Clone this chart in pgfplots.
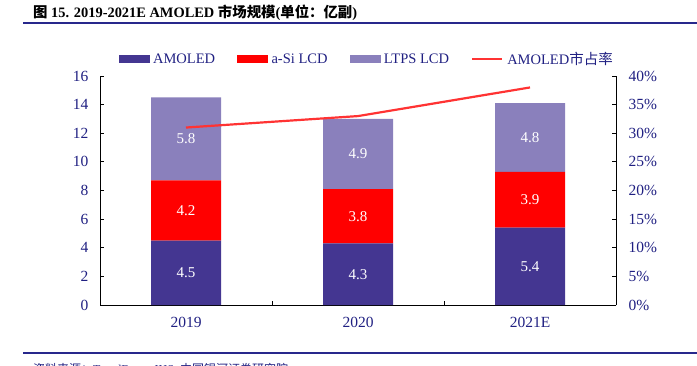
\documentclass[border=0pt]{standalone}
\usepackage{pgfplots}
\pgfplotsset{compat=1.18}
\usepackage{fontspec}
\setmainfont{Liberation Serif}
\newfontfamily\cjk{Noto Sans CJK SC}
\definecolor{amoled}{RGB}{68,54,145}
\definecolor{asi}{RGB}{255,0,0}
\definecolor{ltps}{RGB}{138,128,188}
\definecolor{linered}{RGB}{255,51,51}
\definecolor{navy}{RGB}{32,32,130}
\definecolor{rule}{RGB}{40,40,140}
\pgfplotsset{
  common/.style={
    at={(100pt,-305pt)}, anchor=south west, scale only axis,
    width=516pt, height=229pt, xmin=-0.5, xmax=2.5,
    /pgf/number format/assume math mode=true,
    tick label style={font=\fontsize{15.5}{17}\selectfont, text=navy},
    tick align=inside, major tick length=4pt,
    tick style={black, thick},
    axis line style={black, thick},
  }
}
\begin{document}
\begin{tikzpicture}
\useasboundingbox (0pt,0pt) rectangle (697pt,-365pt);
\clip (0pt,0pt) rectangle (697pt,-365pt);
% title
\node[anchor=base west, text=black, inner sep=0pt] at (33pt,-17pt)
  {\fontsize{14.4}{16}\selectfont\bfseries{\cjk 图} 15. 2019-2021E AMOLED {\cjk 市场规模}({\cjk 单位：亿副})};
\draw[rule, line width=1.6pt] (23pt,-23pt) -- (697pt,-23pt);
\draw[rule, line width=1.6pt] (23pt,-353pt) -- (697pt,-353pt);
\node[anchor=base west, text=navy, inner sep=0pt] at (33pt,-373pt)
  {\fontsize{12}{14}\selectfont{\cjk 资料来源：}TrendForce, IHS, {\cjk 中国银河证券研究院}};
% bars
\begin{axis}[common,
  ybar stacked, bar width=70pt,
  ymin=0, ymax=16, ytick={0,2,...,16},
  axis x line*=bottom, axis y line*=left,
  xtick={-0.5,0.5,1.5,2.5}, x tick label as interval,
  xticklabels={2019,2020,2021E},
  x tick label style={yshift=-9pt},
  y tick label style={xshift=-8pt},
]
\addplot[fill=amoled, draw=none] coordinates {(0,4.5) (1,4.3) (2,5.4)};
\addplot[fill=asi, draw=none] coordinates {(0,4.2) (1,3.8) (2,3.9)};
\addplot[fill=ltps, draw=none] coordinates {(0,5.8) (1,4.9) (2,4.8)};
\end{axis}
% value labels
\begin{axis}[common, hide axis, ymin=0, ymax=16]
\addplot[only marks, mark=none, point meta=explicit symbolic,
  nodes near coords,
  every node near coord/.style={anchor=center, text=white, font=\fontsize{15}{17}\selectfont}]
  coordinates {(0,2.25)[4.5] (0,6.6)[4.2] (0,11.6)[5.8]
               (1,2.15)[4.3] (1,6.2)[3.8] (1,10.55)[4.9]
               (2,2.7)[5.4] (2,7.35)[3.9] (2,11.7)[4.8]};
\end{axis}
% share line
\begin{axis}[common,
  ymin=0, ymax=40, ytick={0,5,...,40},
  yticklabels={0\%,5\%,10\%,15\%,20\%,25\%,30\%,35\%,40\%},
  axis y line*=right, axis x line=none,
  y tick label style={xshift=9pt},
  legend columns=4,
  legend style={draw=none, fill=none, at={(0.517,1.074)}, anchor=center,
    font=\fontsize{14.5}{16}\selectfont, text=navy,
    /tikz/every even column/.append style={column sep=20pt},
    /tikz/every odd column/.append style={column sep=2pt}},
]
\addlegendimage{legend image code/.code={\fill[amoled] (0pt,-3.5pt) rectangle (30pt,3.5pt);}}
\addlegendentry{AMOLED}
\addlegendimage{legend image code/.code={\fill[asi] (0pt,-3.5pt) rectangle (30pt,3.5pt);}}
\addlegendentry{a-Si LCD}
\addlegendimage{legend image code/.code={\fill[ltps] (0pt,-3.5pt) rectangle (30pt,3.5pt);}}
\addlegendentry{LTPS LCD}
\addplot[linered, line width=2.2pt, mark=none,
  legend image code/.code={\draw[linered, line width=2.2pt] (0pt,0pt) -- (30pt,0pt);}]
  coordinates {(0,31) (1,33) (2,38)};
\addlegendentry{AMOLED{\cjk 市占率}}
\end{axis}
\end{tikzpicture}
\end{document}
